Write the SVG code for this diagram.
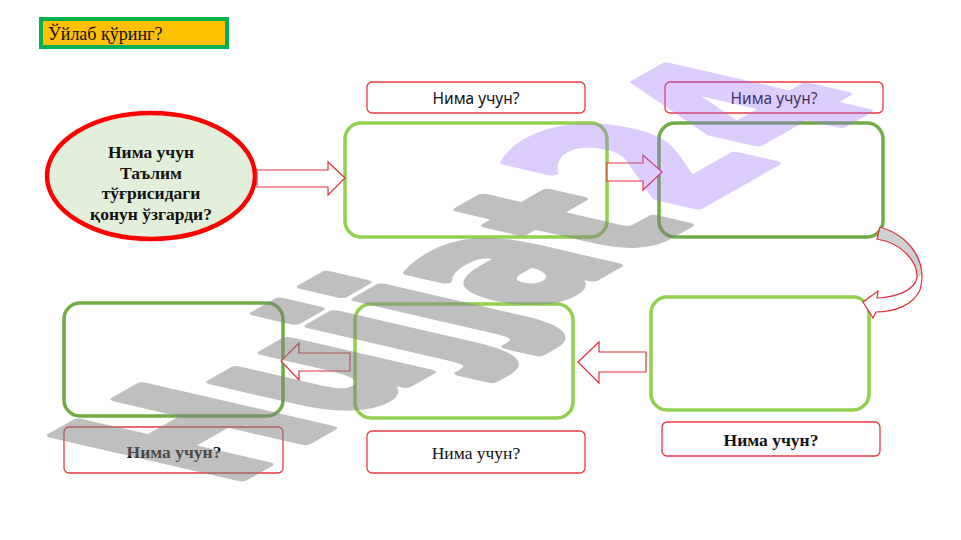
<svg xmlns="http://www.w3.org/2000/svg" width="961" height="540" viewBox="0 0 961 540">
<style>
.lbl{fill:#ffffff;stroke:#e8393f;stroke-width:1.3}
.sans{font-family:"Noto Sans","Liberation Sans",sans-serif;font-size:15.5px;fill:#111;text-anchor:middle}
.ser{font-family:"Liberation Serif",serif;font-size:17.5px;fill:#111;text-anchor:middle}
.b{font-weight:bold}
.boxL{fill:#ffffff;stroke:#92d050;stroke-width:3.5}
.boxD{fill:#ffffff;stroke:#70ad47;stroke-width:3.5}
.arr{fill:#ffffff;stroke:#e0303a;stroke-width:1.2;stroke-linejoin:miter}
.wm{font-family:"DejaVu Sans",sans-serif;font-weight:bold;stroke-linejoin:round}
</style>
<rect width="961" height="540" fill="#ffffff"/>
<g id="title">
<rect x="41" y="19" width="186" height="28" fill="#ffc000" stroke="#00b050" stroke-width="4"/>
<text x="48" y="40" font-family="Liberation Serif,serif" font-size="18" fill="#111">Ўйлаб қўринг?</text>
</g>
<g id="start">
<ellipse cx="151" cy="176" rx="104" ry="63" fill="#e2efda" stroke="#ff0000" stroke-width="4.5"/>
<text class="ser b" x="151" y="158">Нима учун</text>
<text class="ser b" x="151" y="179">Таълим</text>
<text class="ser b" x="151" y="199">тўғрисидаги</text>
<text class="ser b" x="151" y="220">қонун ўзгарди?</text>
</g>
<g id="label1"><rect class="lbl" x="367" y="82" width="218" height="31" rx="5"/><text class="sans" x="476" y="104">Нима учун?</text></g>
<g id="label2"><rect class="lbl" x="665" y="82" width="218" height="31" rx="5"/><text class="sans" x="774" y="104">Нима учун?</text></g>
<g id="box1"><rect class="boxL" x="345" y="123" width="262" height="114" rx="16" stroke-width="4"/></g>
<g id="box2"><rect class="boxD" x="659" y="123" width="224" height="114" rx="16" stroke-width="3"/></g>
<g id="box3"><rect class="boxL" x="651" y="297" width="218" height="113" rx="16" stroke-width="3"/></g>
<g id="box4"><rect class="boxL" x="355" y="304" width="218" height="114" rx="16" stroke-width="3"/></g>
<g id="box5"><rect class="boxD" x="64" y="303" width="219" height="113" rx="16" stroke-width="3"/></g>
<g id="label3"><rect class="lbl" x="662" y="422" width="218" height="34" rx="5"/><text class="ser b" x="771" y="446">Нима учун?</text></g>
<g id="label4"><rect class="lbl" x="367" y="431" width="218" height="42" rx="5"/><text class="ser" x="476" y="459">Нима учун?</text></g>
<g id="label5"><rect class="lbl" x="64" y="427" width="219" height="46" rx="5"/><text class="ser b" x="174" y="458">Нима учун?</text></g>
<g id="connectors">
<path class="arr" d="M257,170 H328 V162 L345,178 L328,195 V187 H257 Z"/>
<path class="arr" d="M607,163 H643 V155 L662,172 L643,190 V181 H607 Z"/>
<path class="arr" d="M646,352 H599 V342 L578,362 L599,383 V372 H646 Z"/>
<path class="arr" d="M350,353 H299 V343 L281,361 L299,380 V371 H350 Z" stroke="#c00000"/>
<path d="M880,227 C910,236 928,262 920,290 C913,305 895,312 876,312 L873,318 L863,302 L878,291 L877,298 C898,297 914,290 917,278 C918,260 900,243 877,239 Z" fill="#ffffff"/>
<path d="M880,227 C906,234 922,252 922,274 L917,278 C918,260 900,243 877,239 Z" fill="#d0d0d0"/>
<path d="M880,227 C910,236 928,262 920,290 C913,305 895,312 876,312 L873,318 L863,302 L878,291 L877,298 C898,297 914,290 917,278 C918,260 900,243 877,239 Z" fill="none" stroke="#e0303a" stroke-width="1.2"/>
</g>
<g id="watermark" transform="matrix(1.37,-0.78,2.56,0.59,228,486)">
<text class="wm" x="0" y="0" font-size="100" fill="#808080" stroke="#808080" stroke-width="5" opacity="0.5">Hujjat</text>
<text class="wm" x="345" y="-6" font-size="106" fill="#9b6bff" stroke="#9b6bff" stroke-width="5" opacity="0.33">24</text>
</g>
</svg>
